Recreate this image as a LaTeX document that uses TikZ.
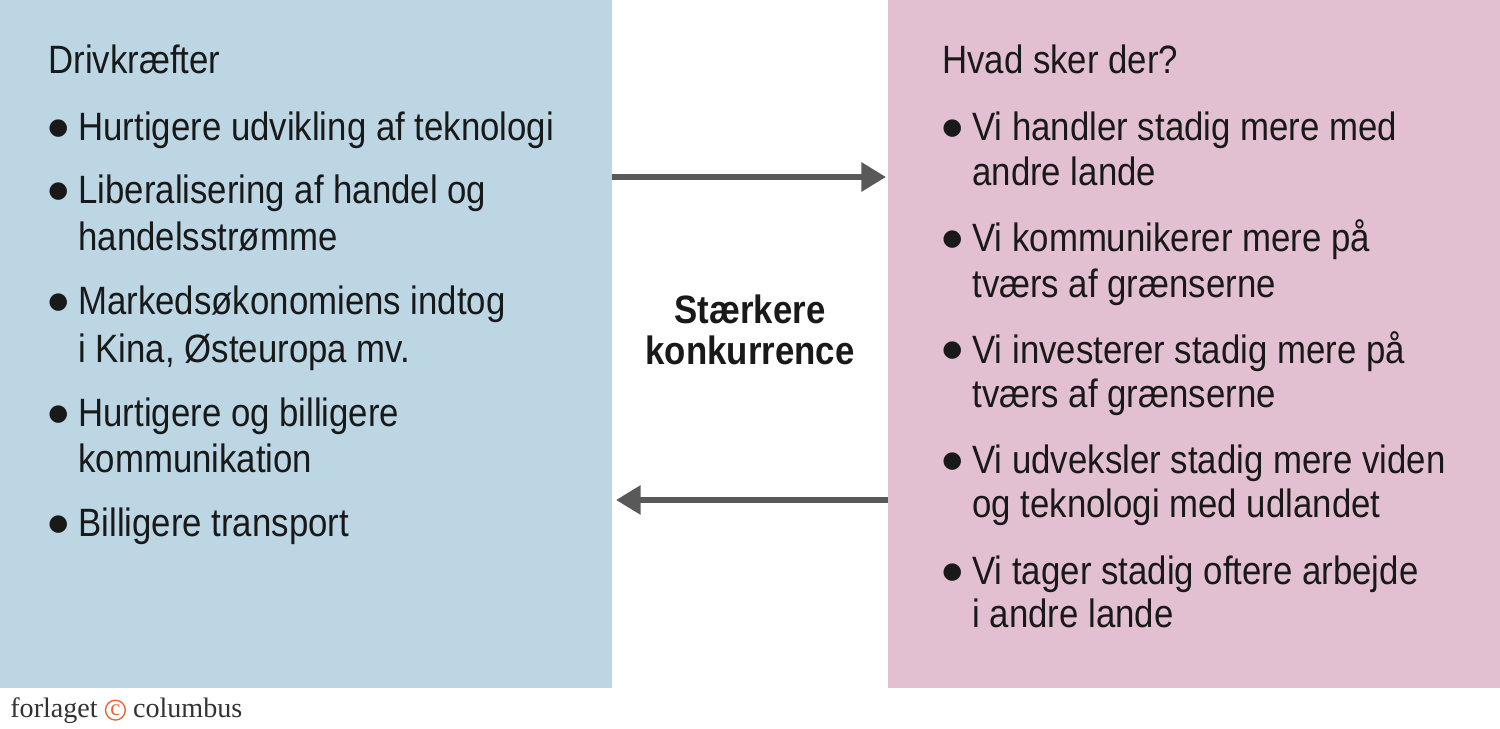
\documentclass[tikz,border=0pt]{standalone}
\usepackage{fontspec}
\setmainfont{Liberation Sans}[FakeStretch=0.88]
\newfontfamily\logofont{Liberation Serif}
\newfontfamily\symfont{DejaVu Sans}
\usetikzlibrary{arrows.meta}
\definecolor{lblue}{HTML}{BCD6E4}
\definecolor{lpink}{HTML}{E2C0D2}
\definecolor{arr}{HTML}{595959}
\definecolor{logoor}{HTML}{E8663A}
\begin{document}
\begin{tikzpicture}[x=0.02cm,y=-0.02cm,
  txt/.style={anchor=base west,inner sep=0pt,font=\fontsize{22.5}{27}\selectfont,text=black!90},
  bul/.style={anchor=base west,inner sep=0pt,font=\symfont\fontsize{13}{15}\selectfont,text=black!90},
  conn/.style={draw=arr,line width=3.2pt,-{Triangle[length=14pt,width=16pt]}}]
\useasboundingbox (0,0) rectangle (1500,729);
\fill[lblue] (0,0) rectangle (612,688);
\fill[lpink] (888,0) rectangle (1500,688);
\node[txt] (h1) at (48,74) {Drivkræfter};
\node[txt] (h2) at (942,74) {Hvad sker der?};
\foreach \y/\t/\b [count=\i] in {
 141/Hurtigere udvikling af teknologi/1,
 204/Liberalisering af handel og/1,
 251/handelsstrømme/0,
 315/Markedsøkonomiens indtog/1,
 362/i Kina{,} Østeuropa mv./0,
 426/Hurtigere og billigere/1,
 472/kommunikation/0,
 536/Billigere transport/1}{
 \node[txt] (l\i) at (78,\y) {\t};
 \ifnum\b=1 \node[bul] (lb\i) at (48,\y-6) {●};\fi
}
\foreach \y/\t/\b [count=\i] in {
 141/Vi handler stadig mere med/1,
 186/andre lande/0,
 252/Vi kommunikerer mere på/1,
 297/tværs af grænserne/0,
 363/Vi investerer stadig mere på/1,
 407/tværs af grænserne/0,
 473/Vi udveksler stadig mere viden/1,
 517/og teknologi med udlandet/0,
 584/Vi tager stadig oftere arbejde/1,
 627/i andre lande/0}{
 \node[txt] (r\i) at (972,\y) {\t};
 \ifnum\b=1 \node[bul] (rb\i) at (942,\y-6) {●};\fi
}
\node[align=center,font=\fontsize{22.5}{23}\selectfont\bfseries,text=black!90] (mid) at (750,330) {Stærkere\\konkurrence};
\coordinate (a1) at (612,177); \coordinate (a2) at (886,177);
\coordinate (b1) at (888,500); \coordinate (b2) at (616,500);
\draw[conn] (a1) -- (a2);
\draw[conn] (b1) -- (b2);
\node[anchor=west,inner sep=0pt,font=\logofont\fontsize{16}{18}\selectfont,text=black!80] (logo) at (10,711)
 {forlaget \tikz[baseline=-0.6ex]\node[draw=logoor,line width=0.8pt,circle,inner sep=1pt,text=logoor,font=\logofont\fontsize{13}{14}\selectfont]{c}; columbus};
\end{tikzpicture}
\end{document}
